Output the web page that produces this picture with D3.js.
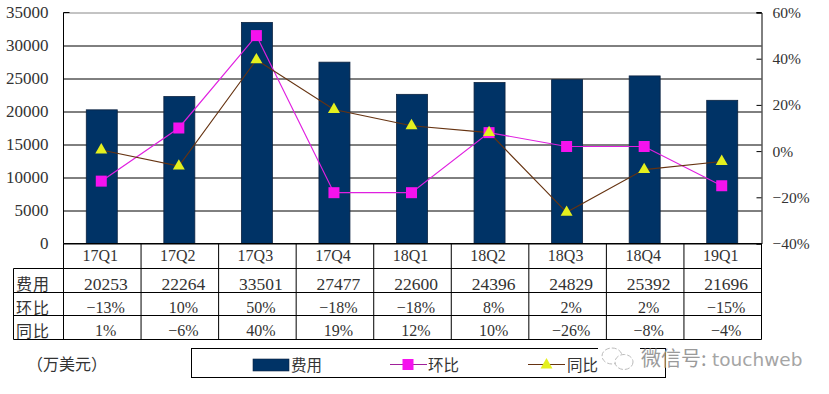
<!DOCTYPE html>
<html>
<head>
<meta charset="utf-8">
<script src="https://cdn.jsdelivr.net/npm/d3@7"></script>
<style>
  html, body { margin: 0; padding: 0; background: #fff; overflow: hidden; }
  text { fill: #333; font-family: "Liberation Serif", serif; }
  .cjk { font-family: "Noto Sans CJK SC", sans-serif; }
</style>
</head>
<body>
<svg id="chart" width="829" height="394"></svg>
<script>
var categories = ["17Q1", "17Q2", "17Q3", "17Q4", "18Q1", "18Q2", "18Q3", "18Q4", "19Q1"];
var cost = [20253, 22264, 33501, 27477, 22600, 24396, 24829, 25392, 21696];
var qoq = [-13, 10, 50, -18, -18, 8, 2, 2, -15];
var yoy = [1, -6, 40, 19, 12, 10, -26, -8, -4];
// 同比 markers as drawn, a little under the table numbers (18Q2 most of all)
var yoyDrawn = [0.5, -6.5, 39.5, 18, 11, 8, -26.5, -8, -4.5];
var costTicks = [0, 5000, 10000, 15000, 20000, 25000, 30000, 35000];
var pctTicks = [-40, -20, 0, 20, 40, 60];
var rowNames = ["费用", "环比", "同比"];

var left = 63.5, right = 761.5, top_ = 12.5, bottom = 243.5, tableLeft = 13.5;
var rowLines = [243.5, 268.5, 292.5, 315.5, 339.5];

var svg = d3.select("#chart");

var x = d3.scaleBand().domain(categories).range([left, right]);
var yCost = d3.scaleLinear().domain([0, 35000]).range([bottom, top_]);
var yPct = d3.scaleLinear().domain([-40, 60]).range([bottom, top_]);

//gridlines and left axis
var leftAxis = svg.append("g")
  .attr("transform", "translate(" + left + ",0)")
  .call(d3.axisLeft(yCost).tickValues(costTicks).tickSize(-(right - left)).tickPadding(15).tickFormat(d3.format("d")));
leftAxis.select(".domain").remove();
leftAxis.selectAll("line").attr("stroke", "#000").attr("stroke-width", 1);
leftAxis.selectAll(".tick").filter(function (d) { return d === 35000; }).select("line").attr("stroke", "#888");
leftAxis.selectAll("text").style("font-size", "17px").style("font-family", "Liberation Serif").attr("fill", "#333");

svg.append("line").attr("x1", left).attr("x2", left + 6).attr("y1", top_).attr("y2", top_).attr("stroke", "#000");
svg.append("line").attr("x1", right - 5).attr("x2", right).attr("y1", top_).attr("y2", top_).attr("stroke", "#000");

//bars
svg.append("g")
  .selectAll("rect")
  .data(cost)
  .enter()
  .append("rect")
  .attr("x", function (d, i) { return x(categories[i]) + x.bandwidth() / 2 - 16; })
  .attr("y", function (d) { return yCost(d); })
  .attr("width", 31)
  .attr("height", function (d) { return bottom - yCost(d); })
  .attr("fill", "#003366")
  .attr("stroke", "#0b2240")
  .attr("stroke-width", 0.8);

//right axis
var rightAxis = svg.append("g")
  .attr("transform", "translate(" + right + ",0)")
  .call(d3.axisRight(yPct).tickValues(pctTicks).tickSize(-5).tickPadding(11).tickFormat(function (d) {
    return (d < 0 ? "\u2212" + (-d) : d) + "%";
  }));
rightAxis.select(".domain").attr("stroke", "#000");
rightAxis.selectAll("line").attr("stroke", "#000");
rightAxis.selectAll("text").style("font-size", "15.5px").style("font-family", "Liberation Serif").attr("fill", "#333");

svg.append("line").attr("x1", left).attr("x2", left).attr("y1", top_).attr("y2", bottom).attr("stroke", "#000");

//lines
var cx = function (i) { return x(categories[i]) + x.bandwidth() / 2 - 1; };
var pctLine = d3.line().x(function (d, i) { return cx(i); }).y(function (d) { return yPct(d); });

svg.append("path").datum(qoq).attr("d", pctLine).attr("fill", "none").attr("stroke", "#e020e0").attr("stroke-width", 1.2);
svg.append("path").datum(yoyDrawn).attr("d", pctLine).attr("fill", "none").attr("stroke", "#663311").attr("stroke-width", 1.1);

var square = d3.symbol().type(d3.symbolSquare).size(121);
var triangle = d3.symbol().type(d3.symbolTriangle).size(62);

svg.append("g").selectAll("path").data(qoq).enter().append("path")
  .attr("d", square)
  .attr("transform", function (d, i) { return "translate(" + cx(i) + "," + yPct(d) + ")"; })
  .attr("fill", "#f512ee");

svg.append("g").selectAll("path").data(yoyDrawn).enter().append("path")
  .attr("d", triangle)
  .attr("transform", function (d, i) { return "translate(" + cx(i) + "," + yPct(d) + ")"; })
  .attr("fill", "#e4f01e");

//table lines
var table = svg.append("g").attr("stroke", "#000").attr("stroke-width", 1);
rowLines.forEach(function (r, i) {
  table.append("line").attr("x1", i === 0 ? left : tableLeft).attr("x2", right).attr("y1", r).attr("y2", r);
});
x.domain().forEach(function (c) {
  table.append("line").attr("x1", x(c)).attr("x2", x(c)).attr("y1", rowLines[0]).attr("y2", rowLines[4]);
});
table.append("line").attr("x1", right).attr("x2", right).attr("y1", rowLines[0]).attr("y2", rowLines[4]);
table.append("line").attr("x1", tableLeft).attr("x2", tableLeft).attr("y1", rowLines[1]).attr("y2", rowLines[4]);

//table text
var pct = function (d) { return (d < 0 ? "\u2212" + (-d) : d) + "%"; };
var rows = [
  { values: categories, y: 261, dx: -2, size: 16 },
  { values: cost, y: 290, dx: 3.5, size: 17.5 },
  { values: qoq.map(pct), y: 312.5, dx: 3.5, size: 16 },
  { values: yoy.map(pct), y: 336, dx: 3.5, size: 16 }
];
rows.forEach(function (r) {
  svg.append("g").selectAll("text").data(r.values).enter().append("text")
    .attr("x", function (d, i) { return x(categories[i]) + x.bandwidth() / 2 + r.dx; })
    .attr("y", r.y)
    .attr("text-anchor", "middle")
    .style("font-size", r.size + "px")
    .text(function (d) { return d; });
});

svg.append("g").selectAll("text").data(rowNames).enter().append("text")
  .attr("class", "cjk")
  .attr("x", 16)
  .attr("y", function (d, i) { return [290, 313.5, 337][i]; })
  .style("font-size", "16px")
  .style("letter-spacing", "1px")
  .text(function (d) { return d; });

svg.append("text").attr("class", "cjk").attr("x", 27).attr("y", 370).style("font-size", "16px").text("（万美元）");

//legend
svg.append("rect").attr("x", 191.5).attr("y", 348.5).attr("width", 474).attr("height", 29)
  .attr("fill", "#fff").attr("stroke", "#000");
svg.append("rect").attr("x", 253).attr("y", 359).attr("width", 36).attr("height", 12).attr("fill", "#003366").attr("stroke", "#0b2240").attr("stroke-width", 0.6);
svg.append("text").attr("class", "cjk").attr("x", 291).attr("y", 370.5).style("font-size", "15.5px").text(rowNames[0]);

svg.append("line").attr("x1", 390).attr("x2", 427).attr("y1", 364.5).attr("y2", 364.5).attr("stroke", "#a0209a");
svg.append("path").attr("d", square).attr("transform", "translate(408,364.5)").attr("fill", "#f512ee");
svg.append("text").attr("class", "cjk").attr("x", 428).attr("y", 370.5).style("font-size", "15.5px").text(rowNames[1]);

svg.append("line").attr("x1", 528).attr("x2", 565).attr("y1", 364.5).attr("y2", 364.5).attr("stroke", "#663311");
svg.append("path").attr("d", triangle).attr("transform", "translate(546.5,365)").attr("fill", "#e4f01e");
svg.append("text").attr("class", "cjk").attr("x", 567).attr("y", 370.5).style("font-size", "15.5px").text(rowNames[2]);

//watermark
var mark = svg.append("g");
mark.append("rect").attr("x", 598).attr("y", 346).attr("width", 42).attr("height", 5).attr("fill", "#fff");
mark.append("ellipse").attr("cx", 612).attr("cy", 356).attr("rx", 10).attr("ry", 8)
  .attr("fill", "#fff").attr("stroke", "#bbb").attr("stroke-dasharray", "5 2");
mark.append("ellipse").attr("cx", 624).attr("cy", 362).attr("rx", 9).attr("ry", 7.5)
  .attr("fill", "#fff").attr("stroke", "#bbb").attr("stroke-dasharray", "5 2");
mark.append("text").attr("class", "cjk").attr("x", 641).attr("y", 366)
  .style("font-size", "20px").style("fill", "#9a9a9a").text("微信号:");
mark.append("text").attr("x", 712).attr("y", 366)
  .style("font-family", "DejaVu Sans").style("font-size", "18.5px").style("fill", "#a5a5a5").text("touchweb");
</script>
</body>
</html>
